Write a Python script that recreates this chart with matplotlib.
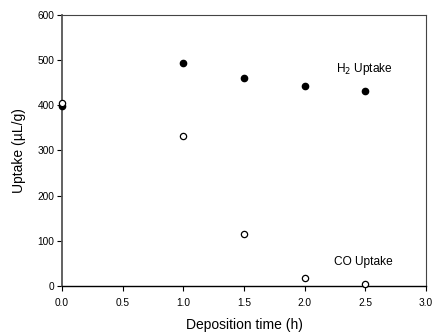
import numpy as np
import matplotlib.pyplot as plt

plt.rcParams['font.family'] = ['Liberation Sans', 'DejaVu Sans']

# data
time_h = [0.0, 1.0, 1.5, 2.0, 2.5]
h2_uptake = [399, 494, 460, 443, 432]
co_uptake = [406, 333, 115, 18, 5]

fig = plt.figure(figsize=(4.32, 3.34), dpi=100)
ax = fig.add_axes([62/432, 1 - 286/334, 364/432, 271/334])

ax.plot(time_h, h2_uptake, 'o', color='black', markersize=4.5, clip_on=False, zorder=3)
ax.plot(time_h, co_uptake, 'o', markerfacecolor='white', markeredgecolor='black',
        markeredgewidth=0.9, markersize=4.5, clip_on=False, zorder=4)

ax.text(2.26, 480, 'H$_2$ Uptake', fontsize=8.6, va='center', ha='left')
ax.text(2.24, 53, 'CO Uptake', fontsize=8.6, va='center', ha='left')

ax.set_xlim(0, 3.0)
ax.set_ylim(0, 600)
ax.set_xticks(np.arange(0, 3.01, 0.5))
ax.set_xticklabels([f"{t:.1f}" for t in np.arange(0, 3.01, 0.5)])
ax.set_yticks(range(0, 601, 100))
ax.tick_params(direction='out', length=3.5, width=0.8, labelsize=7.3)
ax.tick_params(axis='x', pad=5)
ax.tick_params(axis='y', pad=2)

for side in ['top', 'right']:
    ax.spines[side].set_color('#444444')
    ax.spines[side].set_linewidth(0.8)
ax.spines['left'].set_color('#555555')
ax.spines['left'].set_linewidth(1.3)
ax.spines['bottom'].set_color('black')
ax.spines['bottom'].set_linewidth(1.0)

ax.set_xlabel('Deposition time (h)', fontsize=10, labelpad=7)
ax.set_ylabel('Uptake (µL/g)', fontsize=10, labelpad=8)

fig.savefig('out.png', dpi=100)
